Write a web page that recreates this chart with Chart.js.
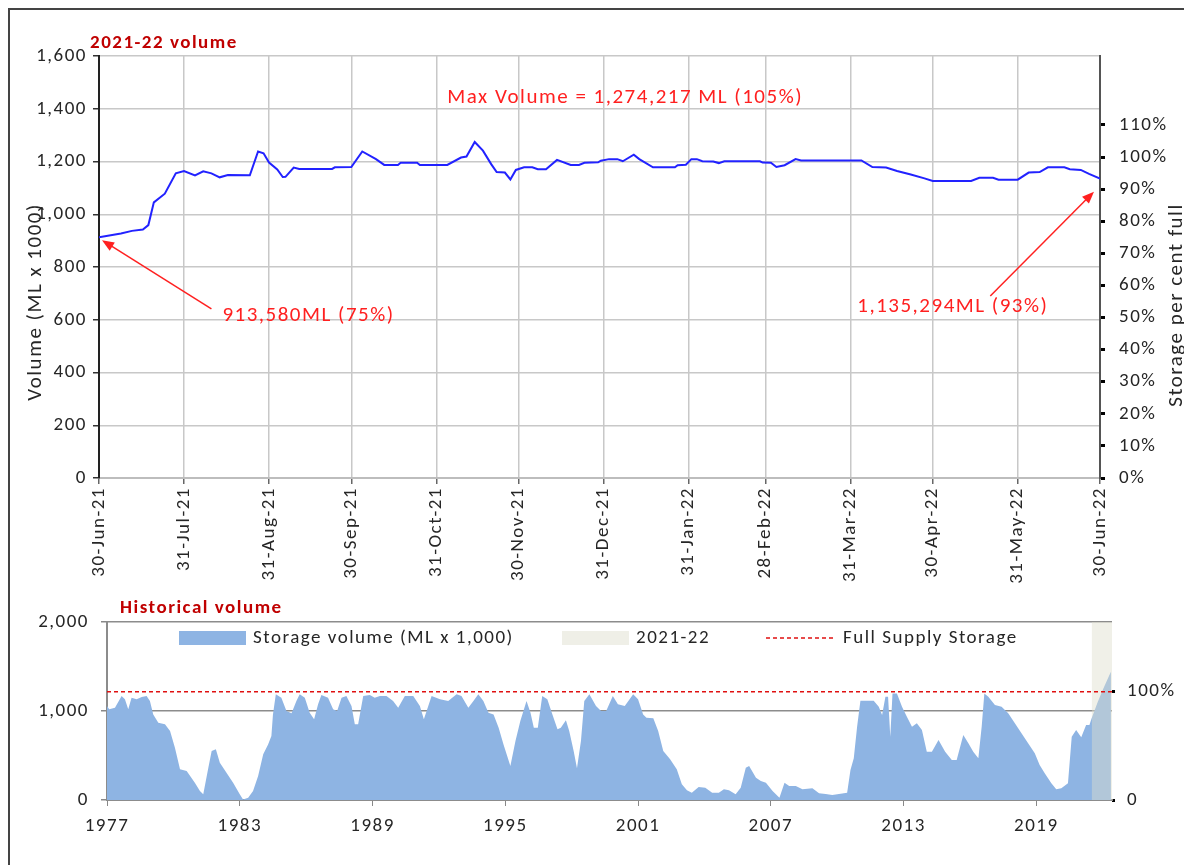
<!DOCTYPE html>
<html>
<head>
<meta charset="utf-8">
<script src="https://cdn.jsdelivr.net/npm/chart.js@4.4.1/dist/chart.umd.min.js"></script>
<style>
  html, body { margin: 0; padding: 0; background: #fff; overflow: hidden; }
  body { width: 1184px; height: 865px; position: relative; }
  #frame { position: absolute; left: 8px; top: 8px; width: 1200px; height: 900px; border-left: 2px solid #444; border-top: 2px solid #444; }
  #topWrap { position: absolute; left: 0; top: 0; width: 1184px; height: 598px; }
  #histWrap { position: absolute; left: 0; top: 598px; width: 1184px; height: 267px; }
</style>
</head>
<body>
<div id="frame"></div>
<div id="topWrap"><canvas id="topChart"></canvas></div>
<div id="histWrap"><canvas id="histChart"></canvas></div>
<script>
// --- 2021-22 daily volume (ML x 1000), day 0 = 30-Jun-21 ---
const volDays = [0, 8, 12, 16, 18, 20, 24, 28, 31, 35, 38, 41, 44, 47, 55, 58, 60, 62, 65, 67, 68, 71, 73, 85, 86, 92,
  96, 101, 104, 109, 110, 116, 117, 127, 132, 134, 137, 140, 143, 145, 148, 150, 152, 155, 158, 160, 163, 167, 172,
  175, 177, 182, 183, 186, 189, 191, 195, 197, 202, 210, 211, 214, 216, 218, 220, 224, 226, 228, 241, 242, 245, 247,
  250, 254, 256, 278, 282, 287, 291, 296, 301, 304, 318, 321, 326, 328, 335, 339, 343, 346, 352, 354, 358, 361, 365];
const volValues = [913, 927, 937, 942, 959, 1045, 1078, 1155, 1164, 1147, 1163, 1155, 1140, 1149, 1148, 1238, 1231,
  1196, 1170, 1141, 1142, 1177, 1172, 1172, 1178, 1179, 1238, 1209, 1187, 1187, 1195, 1195, 1187, 1187, 1215, 1219,
  1274, 1241, 1190, 1160, 1158, 1132, 1168, 1178, 1178, 1171, 1171, 1206, 1187, 1187, 1195, 1197, 1203, 1209, 1209,
  1201, 1226, 1209, 1178, 1178, 1186, 1188, 1209, 1209, 1201, 1200, 1194, 1201, 1201, 1196, 1195, 1179, 1186, 1209,
  1204, 1204, 1179, 1177, 1164, 1151, 1136, 1126, 1126, 1138, 1138, 1131, 1131, 1158, 1160, 1178, 1178, 1171, 1168,
  1153, 1135];

const monthEndDays = [0, 31, 62, 92, 123, 153, 184, 215, 243, 274, 304, 335, 365];
const monthEndLabels = ['30-Jun-21', '31-Jul-21', '31-Aug-21', '30-Sep-21', '31-Oct-21', '30-Nov-21', '31-Dec-21',
  '31-Jan-22', '28-Feb-22', '31-Mar-22', '30-Apr-22', '31-May-22', '30-Jun-22'];
const pctTicks = [0, 10, 20, 30, 40, 50, 60, 70, 80, 90, 100, 110];

const fullSupply = 1217; // ML x 1000

// --- historical volume (ML x 1000) ---
const histYears = [1977.0, 1977.1, 1977.36, 1977.66, 1977.81, 1977.96, 1978.11, 1978.34, 1978.57, 1978.79, 1978.94,
  1979.09, 1979.32, 1979.62, 1979.85, 1980.07, 1980.3, 1980.6, 1980.97, 1981.2, 1981.35, 1981.58, 1981.73, 1981.92,
  1982.1, 1982.4, 1982.7, 1983.0, 1983.15, 1983.38, 1983.6, 1983.83, 1984.06, 1984.28, 1984.43, 1984.5, 1984.63,
  1984.88, 1985.11, 1985.34, 1985.56, 1985.71, 1985.94, 1986.16, 1986.36, 1986.54, 1986.69, 1986.99, 1987.22, 1987.4,
  1987.6, 1987.82, 1988.05, 1988.2, 1988.35, 1988.58, 1988.88, 1989.1, 1989.33, 1989.63, 1989.93, 1990.16, 1990.46,
  1990.84, 1991.14, 1991.32, 1991.52, 1991.67, 1992.05, 1992.42, 1992.8, 1993.02, 1993.33, 1993.56, 1993.78, 1994.01,
  1994.24, 1994.47, 1994.7, 1994.92, 1995.23, 1995.46, 1995.68, 1995.96, 1996.14, 1996.29, 1996.47, 1996.67, 1996.9,
  1997.13, 1997.36, 1997.51, 1997.74, 1997.89, 1998.09, 1998.24, 1998.42, 1998.57, 1998.8, 1999.1, 1999.33, 1999.56,
  1999.86, 2000.09, 2000.4, 2000.78, 2001.0, 2001.23, 2001.38, 2001.69, 2001.91, 2002.14, 2002.45, 2002.75, 2002.98,
  2003.21, 2003.43, 2003.74, 2004.04, 2004.35, 2004.65, 2004.88, 2005.11, 2005.41, 2005.64, 2005.87, 2006.02, 2006.33,
  2006.55, 2006.78, 2007.08, 2007.39, 2007.62, 2007.83, 2008.13, 2008.43, 2008.88, 2009.18, 2009.48, 2009.78, 2010.08,
  2010.45, 2010.6, 2010.75, 2010.9, 2011.05, 2011.35, 2011.65, 2011.88, 2012.03, 2012.18, 2012.3, 2012.4, 2012.5,
  2012.7, 2012.93, 2013.15, 2013.38, 2013.6, 2013.83, 2014.05, 2014.28, 2014.58, 2014.88, 2015.18, 2015.4, 2015.7,
  2015.93, 2016.15, 2016.38, 2016.53, 2016.65, 2016.83, 2017.13, 2017.43, 2017.73, 2018.03, 2018.33, 2018.63, 2018.93,
  2019.15, 2019.38, 2019.68, 2019.9, 2020.13, 2020.43, 2020.6, 2020.8, 2021.03, 2021.25, 2021.4, 2021.5, 2021.78,
  2022.0, 2022.37];
const histValues = [1056, 1019, 1037, 1168, 1131, 1019, 1150, 1131, 1157, 1168, 1112,
  962, 869, 850, 775, 588, 345, 326, 195, 101, 64, 363, 550, 569,
  419, 307, 195, 64, 7, 26, 101, 270, 513, 625, 719, 962, 1187,
  1150, 1000, 974, 1112, 1187, 1150, 981, 906, 1075, 1180, 1150, 1019, 1000,
  1150, 1168, 1056, 850, 850, 1168, 1180, 1150, 1168, 1168, 1112, 1037, 1168,
  1168, 1056, 906, 1056, 1168, 1131, 1112, 1187, 1168, 1037, 1112, 1187, 1112,
  981, 962, 813, 625, 382, 663, 888, 1112, 981, 813, 813, 1168, 1131,
  962, 794, 813, 895, 775, 550, 356, 663, 1112, 1187, 1056, 1000, 1000,
  1168, 1075, 1056, 1187, 1131, 962, 925, 918, 775, 550, 457, 345, 176,
  109, 82, 146, 139, 82, 82, 120, 109, 64, 139, 363, 382, 251,
  213, 195, 101, 26, 195, 157, 157, 120, 131, 75, 67, 56, 67,
  82, 337, 468, 824, 1116, 1116, 1116, 1049, 955, 1161, 1161, 712, 1198,
  1198, 1049, 936, 824, 861, 787, 543, 543, 674, 543, 449, 449, 730,
  637, 543, 468, 824, 1198, 1161, 1067, 1049, 974, 861, 749, 637, 524,
  393, 300, 187, 120, 131, 187, 712, 787, 704, 843, 843, 918, 1105,
  1236, 1442];
const yearTicks = [1977, 1983, 1989, 1995, 2001, 2007, 2013, 2019];
const histStart = 1977;
const histEnd = 2022.42;
const fyStart = 2021.5; // 2021-22 band

const FONT = "Carlito, Lato, 'Open Sans', sans-serif";
const LETTER_SPACING = '1.5px';
Chart.defaults.font.family = FONT;
Chart.defaults.font.size = 19;
Chart.defaults.color = '#262626';

const RED = '#ff2020';
const DARK_RED = '#c00000';
const AREA_BLUE = '#8eb4e3';

// The original text is set a little wider than Lato, so open the letters up a bit
Chart.register({
    id: 'textSpacing',
    beforeUpdate(chart) { chart.ctx.letterSpacing = LETTER_SPACING; },
    beforeDraw(chart) { chart.ctx.letterSpacing = LETTER_SPACING; }
});

function drawArrow(ctx, x1, y1, x2, y2) {
    let ang = Math.atan2(y2 - y1, x2 - x1);
    let head = 13;
    ctx.beginPath();
    ctx.moveTo(x1, y1);
    ctx.lineTo(x2 - Math.cos(ang) * head * 0.8, y2 - Math.sin(ang) * head * 0.8);
    ctx.stroke();
    ctx.beginPath();
    ctx.moveTo(x2, y2);
    ctx.lineTo(x2 - head * Math.cos(ang - 0.38), y2 - head * Math.sin(ang - 0.38));
    ctx.lineTo(x2 - head * Math.cos(ang + 0.38), y2 - head * Math.sin(ang + 0.38));
    ctx.closePath();
    ctx.fill();
}

function rotatedText(ctx, text, x, y) {
    ctx.save();
    ctx.translate(x, y);
    ctx.rotate(-Math.PI / 2);
    ctx.textAlign = 'center';
    ctx.textBaseline = 'middle';
    ctx.fillText(text, 0, 0);
    ctx.restore();
}

// Titles, axis titles and the red notes of the top chart
const topNotes = {
    id: 'topNotes',
    afterDraw(chart) {
        const {ctx, scales: {x, y}} = chart;
        ctx.save();
        ctx.fillStyle = DARK_RED;
        ctx.font = 'bold 19px ' + FONT;
        ctx.textBaseline = 'middle';
        ctx.fillText('2021-22 volume', 90, 43);

        ctx.fillStyle = '#262626';
        ctx.font = '21px ' + FONT;
        rotatedText(ctx, 'Volume (ML x 1000)', 36, 302);
        rotatedText(ctx, 'Storage per cent full', 1177, 305);

        ctx.fillStyle = RED;
        ctx.strokeStyle = RED;
        ctx.lineWidth = 1.5;
        ctx.font = '21px ' + FONT;
        ctx.textAlign = 'left';
        ctx.fillText('Max Volume = 1,274,217 ML (105%)', x.getPixelForValue(127), y.getPixelForValue(1441));
        ctx.fillText('913,580ML (75%)', x.getPixelForValue(45), y.getPixelForValue(614));
        ctx.fillText('1,135,294ML (93%)', x.getPixelForValue(276.5), y.getPixelForValue(648));

        let last = volDays.length - 1;
        drawArrow(ctx, x.getPixelForValue(41), y.getPixelForValue(641),
            x.getPixelForValue(volDays[0]) + 3, y.getPixelForValue(volValues[0]) + 3);
        drawArrow(ctx, x.getPixelForValue(325), y.getPixelForValue(690),
            x.getPixelForValue(volDays[last]) - 6, y.getPixelForValue(volValues[last]) + 13);
        ctx.restore();
    }
};

const topChart = new Chart(document.getElementById('topChart'), {
    type: 'line',
    data: {
        datasets: [{
            label: '2021-22 volume',
            data: volDays.map((d, i) => ({x: d, y: volValues[i]})),
            borderColor: '#2222ff',
            borderWidth: 2,
            pointRadius: 0,
            tension: 0,
            yAxisID: 'y'
        }]
    },
    options: {
        responsive: true,
        maintainAspectRatio: false,
        animation: false,
        layout: {padding: {top: 56, left: 0, right: 0, bottom: 0}},
        plugins: {legend: {display: false}, tooltip: {enabled: false}, title: {display: false}},
        scales: {
            x: {
                type: 'linear',
                min: 0,
                max: 365,
                afterBuildTicks: s => { s.ticks = monthEndDays.map(v => ({value: v})); },
                afterFit: s => { s.height = 120; },
                ticks: {
                    minRotation: 90,
                    maxRotation: 90,
                    autoSkip: false,
                    padding: 3,
                    callback: (v, i) => monthEndLabels[i]
                },
                grid: {color: '#c8c8c8', lineWidth: 1.5, tickLength: 6, tickColor: '#666'},
                border: {color: '#bdbdbd', width: 2}
            },
            y: {
                position: 'left',
                min: 0,
                max: 1600,
                afterFit: s => { s.width = 99; },
                ticks: {stepSize: 200, padding: 6, callback: v => v.toLocaleString('en-US')},
                grid: {color: '#c8c8c8', lineWidth: 1.5, tickLength: 6, tickColor: '#333'},
                border: {color: '#222', width: 2}
            },
            pct: {
                position: 'right',
                min: 0,
                max: 1600 / fullSupply * 100,
                afterBuildTicks: s => { s.ticks = pctTicks.map(v => ({value: v})); },
                afterFit: s => { s.width = 84; },
                ticks: {padding: 14, callback: v => v + '%'},
                grid: {drawOnChartArea: false, tickLength: 5, tickWidth: 3, tickColor: '#000'},
                border: {color: '#555', width: 2}
            }
        }
    },
    plugins: [topNotes]
});

// Title and legend of the historical chart
const histNotes = {
    id: 'histNotes',
    afterDraw(chart) {
        const {ctx, chartArea} = chart;
        ctx.save();
        ctx.fillStyle = DARK_RED;
        ctx.font = 'bold 19px ' + FONT;
        ctx.textBaseline = 'middle';
        ctx.fillText('Historical volume', 120, 10);

        let ly = chartArea.top + 16;
        let items = [
            {text: 'Storage volume (ML x 1,000)', off: 72, kind: 'box', color: AREA_BLUE},
            {text: '2021-22', off: 455, kind: 'box', color: '#efefe7'},
            {text: 'Full Supply Storage', off: 659, kind: 'dash', color: '#e01010'}
        ];
        ctx.font = '19px ' + FONT;
        for (const it of items) {
            let lx = chartArea.left + it.off;
            if (it.kind === 'box') {
                ctx.fillStyle = it.color;
                ctx.fillRect(lx, ly - 7, 67, 14);
            } else {
                ctx.strokeStyle = it.color;
                ctx.lineWidth = 1.5;
                ctx.setLineDash([4, 3]);
                ctx.beginPath();
                ctx.moveTo(lx, ly);
                ctx.lineTo(lx + 70, ly);
                ctx.stroke();
                ctx.setLineDash([]);
            }
            ctx.fillStyle = '#262626';
            ctx.fillText(it.text, lx + (it.kind === 'box' ? 74 : 77), ly);
        }
        ctx.restore();
    }
};

const histChart = new Chart(document.getElementById('histChart'), {
    type: 'line',
    data: {
        datasets: [{
            label: 'Full Supply Storage',
            data: [{x: histStart, y: fullSupply}, {x: histEnd, y: fullSupply}],
            borderColor: '#e01010',
            borderWidth: 1.5,
            borderDash: [4, 3],
            pointRadius: 0,
            order: 0
        }, {
            label: '2021-22',
            data: [{x: fyStart, y: 2000}, {x: histEnd, y: 2000}],
            borderWidth: 0,
            pointRadius: 0,
            fill: 'origin',
            backgroundColor: 'rgba(222,222,205,0.45)',
            order: 1
        }, {
            label: 'Storage volume (ML x 1,000)',
            data: histYears.map((yr, i) => ({x: yr, y: histValues[i]})),
            borderWidth: 0,
            pointRadius: 0,
            tension: 0,
            fill: 'origin',
            backgroundColor: AREA_BLUE,
            order: 2
        }]
    },
    options: {
        responsive: true,
        maintainAspectRatio: false,
        animation: false,
        layout: {padding: {top: 24, left: 0, right: 0, bottom: 0}},
        plugins: {legend: {display: false}, tooltip: {enabled: false}, title: {display: false}},
        scales: {
            x: {
                type: 'linear',
                min: histStart,
                max: histEnd,
                afterBuildTicks: s => { s.ticks = yearTicks.map(v => ({value: v})); },
                afterFit: s => { s.height = 65; },
                ticks: {maxRotation: 0, autoSkip: false, padding: 9, callback: v => String(v)},
                grid: {drawOnChartArea: false, tickLength: 6, tickColor: '#888'},
                border: {color: '#8c8c8c', width: 2}
            },
            y: {
                position: 'left',
                min: 0,
                max: 2000,
                afterFit: s => { s.width = 107; },
                ticks: {stepSize: 1000, padding: 12, callback: v => v.toLocaleString('en-US')},
                grid: {color: '#8c8c8c', lineWidth: 1.5, tickLength: 6, tickColor: '#888'},
                border: {color: '#8c8c8c', width: 2}
            },
            pct: {
                position: 'right',
                min: 0,
                max: 2000 / fullSupply * 100,
                afterBuildTicks: s => { s.ticks = [0, 100].map(v => ({value: v})); },
                afterFit: s => { s.width = 72; },
                ticks: {padding: 12, callback: v => (v === 0 ? '0' : v + '%')},
                grid: {drawOnChartArea: false, tickLength: 3, tickWidth: 3, tickColor: '#000'},
                border: {display: false}
            }
        }
    },
    plugins: [histNotes]
});
</script>
</body>
</html>
